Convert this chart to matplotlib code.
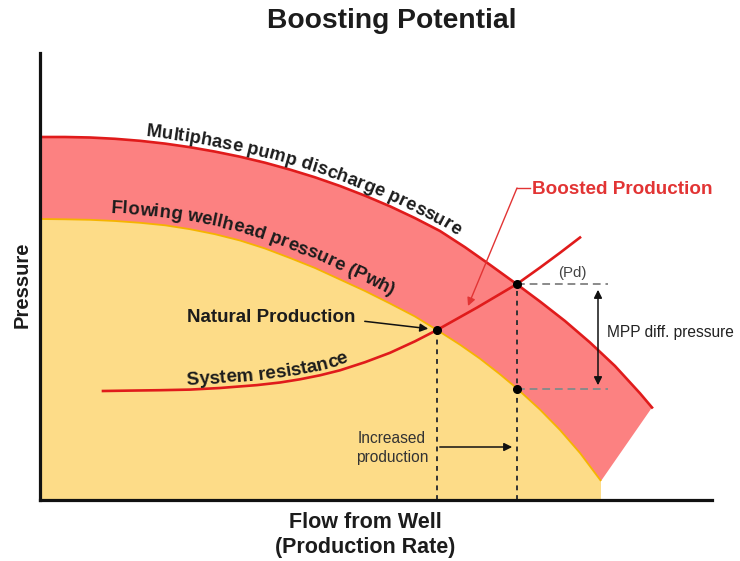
import numpy as np
import matplotlib
matplotlib.use("Agg")
import matplotlib.pyplot as plt
from matplotlib.transforms import IdentityTransform

plt.rcParams['font.family'] = ['Liberation Sans', 'DejaVu Sans']

# curve data (flow, pressure)
upper_flow = [0, 25, 50, 75, 100, 125, 150, 175, 200, 225, 250, 275, 300, 325, 350,
              375, 400, 425, 450, 475, 500, 525, 550, 575, 600, 612]
upper_pres = [363, 363, 362.5, 361.2, 359.2, 356.4, 352.8, 348.4, 343.3, 337.3, 330.4,
              322.7, 314, 304.3, 293.7, 281.9, 269, 252.8, 235.2, 217.1, 198.5, 179,
              157.5, 134, 106.7, 92.5]

lower_flow = [0, 25, 50, 75, 100, 125, 150, 175, 200, 225, 250, 275, 300, 325, 350,
              375, 397, 420, 440, 460, 477, 500, 520, 540, 561]
lower_pres = [281, 280.7, 280.2, 279, 277.2, 274.7, 270.8, 265.8, 259.5, 251.5, 242,
              232, 220.5, 209, 196.5, 183.5, 170, 155.3, 141.3, 125.7, 111.5, 90.4,
              70, 47, 19]

system_flow = [63, 90, 120, 150, 180, 217, 240, 260, 280, 300, 325, 350, 375, 397,
               417, 437, 457, 477, 500, 520, 540]
system_pres = [109, 109.4, 109.8, 110.4, 112, 114.9, 117.5, 120.7, 124.7, 129.7, 137.8,
               147.2, 158.7, 170, 181.2, 192.4, 204.2, 216, 232.4, 247.2, 262.5]

natural_pt = (397, 170)
boosted_pt = (477, 216)
boosted_low_pt = (477, 111.5)

RED_FILL = '#fc8181'
YELLOW_FILL = '#fddc88'
RED_LINE = '#e01b1b'
TXT = '#1c1c1c'

fig = plt.figure(figsize=(7.4, 5.61), dpi=100)
ax = fig.add_axes([40 / 740, 61 / 561, 672 / 740, 447 / 561])
ax.set_xlim(0, 672)
ax.set_ylim(0, 447)
ax.set_xticks([])
ax.set_yticks([])
for side in ['top', 'right']:
    ax.spines[side].set_visible(False)
for side in ['left', 'bottom']:
    ax.spines[side].set_linewidth(2.3)
    ax.spines[side].set_color('#111111')
    ax.spines[side].set_zorder(10)

# yellow area under the wellhead pressure curve
yx = lower_flow + [lower_flow[-1], 0]
yy = lower_pres + [0, 0]
ax.fill(yx, yy, color=YELLOW_FILL, lw=0, zorder=1)

# red band between pump discharge and wellhead pressure
bx = upper_flow + lower_flow[::-1]
by = upper_pres + lower_pres[::-1]
ax.fill(bx, by, color=RED_FILL, lw=0, zorder=2)

ax.plot(lower_flow, lower_pres, color='#f5b400', lw=1.3, zorder=3, solid_capstyle='butt')
ax.plot(upper_flow, upper_pres, color=RED_LINE, lw=1.9, zorder=4)
ax.plot(system_flow, system_pres, color=RED_LINE, lw=1.9, zorder=5)

# dashed guides
ax.plot([natural_pt[0], natural_pt[0]], [0, natural_pt[1]], color='#333333', lw=1.4,
        ls=(0, (2.5, 2.5)), zorder=6)
ax.plot([boosted_pt[0], boosted_pt[0]], [0, boosted_pt[1]], color='#333333', lw=1.4,
        ls=(0, (2.5, 2.5)), zorder=6)
ax.plot([boosted_pt[0], 568], [boosted_pt[1], boosted_pt[1]], color='#8a8a8a', lw=1.4,
        ls=(0, (4, 2.5)), zorder=6)
ax.plot([boosted_low_pt[0], 568], [boosted_low_pt[1], boosted_low_pt[1]], color='#8a8a8a',
        lw=1.4, ls=(0, (4, 2.5)), zorder=6)

# points
for p in [natural_pt, boosted_pt, boosted_low_pt]:
    ax.plot(p[0], p[1], 'o', color='black', ms=5.5, zorder=8)

# arrows
ax.annotate('', xy=(558, 213), xytext=(558, 112),
            arrowprops=dict(arrowstyle='<|-|>', color='#111111', lw=1.1, mutation_scale=12), zorder=7)
ax.annotate('', xy=(475, 53), xytext=(397, 53),
            arrowprops=dict(arrowstyle='-|>', color='#111111', lw=1.1, mutation_scale=12), zorder=7)
ax.annotate('', xy=(391, 171), xytext=(322, 179),
            arrowprops=dict(arrowstyle='-|>', color='#111111', lw=1.1, mutation_scale=12), zorder=7)
ax.plot([477, 490], [312, 312], color='#e23434', lw=1.0, zorder=7)
ax.annotate('', xy=(428, 194), xytext=(477, 312),
            arrowprops=dict(arrowstyle='-|>', color='#e23434', lw=1.0, mutation_scale=12,
                            shrinkA=0, shrinkB=0), zorder=7)

# plain labels
ax.text(147, 182, 'Natural Production', fontsize=13.5, fontweight='bold', color=TXT,
        ha='left', va='center', zorder=9)
ax.text(492, 310, 'Boosted Production', fontsize=13.6, fontweight='bold', color='#e23434',
        ha='left', va='center', zorder=9)
ax.text(532, 227, '(Pd)', fontsize=10.8, color='#444444', ha='center', va='center', zorder=9)
ax.text(567, 167, 'MPP diff. pressure', fontsize=11.2, color='#222222', ha='left',
        va='center', zorder=9)
ax.text(352, 52, 'Increased\nproduction', fontsize=11.2, color='#333333', ha='center',
        va='center', linespacing=1.3, zorder=9)

fig.text(392 / 740, 1 - 21 / 561, 'Boosting Potential', fontsize=20.3, fontweight='bold',
         color=TXT, ha='center', va='center')
fig.text(365 / 740, 1 - 535 / 561, 'Flow from Well\n(Production Rate)', fontsize=15.5,
         fontweight='bold', color=TXT, ha='center', va='center', linespacing=1.3)
fig.text(22 / 740, 1 - 285 / 561, 'Pressure', fontsize=14.5, fontweight='bold', color=TXT,
         ha='center', va='center', rotation=90)


# text that follows a curve, one glyph at a time
def curve_label(xs, ys, text, x_start, offset, **kw):
    r = fig.canvas.get_renderer()
    pts = ax.transData.transform(np.column_stack([xs, ys]))
    seg = np.hypot(np.diff(pts[:, 0]), np.diff(pts[:, 1]))
    s = np.concatenate([[0], np.cumsum(seg)])
    x0 = ax.transData.transform((x_start, 0))[0]
    pos = np.interp(x0, pts[:, 0], s)

    def width(t):
        tt = fig.text(0, 0, t, **kw)
        w = tt.get_window_extent(r).width
        tt.remove()
        return w

    base = width('xx')
    for ch in text:
        adv = width('x' + ch + 'x') - base
        c = pos + adv / 2
        px = np.interp(c, s, pts[:, 0])
        py = np.interp(c, s, pts[:, 1])
        dx = np.interp(c + 4, s, pts[:, 0]) - np.interp(c - 4, s, pts[:, 0])
        dy = np.interp(c + 4, s, pts[:, 1]) - np.interp(c - 4, s, pts[:, 1])
        ang = np.arctan2(dy, dx)
        nx, ny = -np.sin(ang), np.cos(ang)
        if ch != ' ':
            fig.text(px + nx * offset, py + ny * offset, ch, transform=IdentityTransform(),
                     rotation=np.degrees(ang), rotation_mode='anchor', ha='center',
                     va='baseline', zorder=9, **kw)
        pos += adv


lab = dict(fontweight='bold', color=TXT)
curve_label(upper_flow, upper_pres, 'Multiphase pump discharge pressure', 105, 5,
            fontsize=13.3, **lab)
curve_label(lower_flow, lower_pres, 'Flowing wellhead pressure (Pwh)', 70, 8,
            fontsize=13.4, **lab)
curve_label(system_flow, system_pres, 'System resistance', 147, 5, fontsize=13.6, **lab)

fig.savefig('out.png', dpi=100)
